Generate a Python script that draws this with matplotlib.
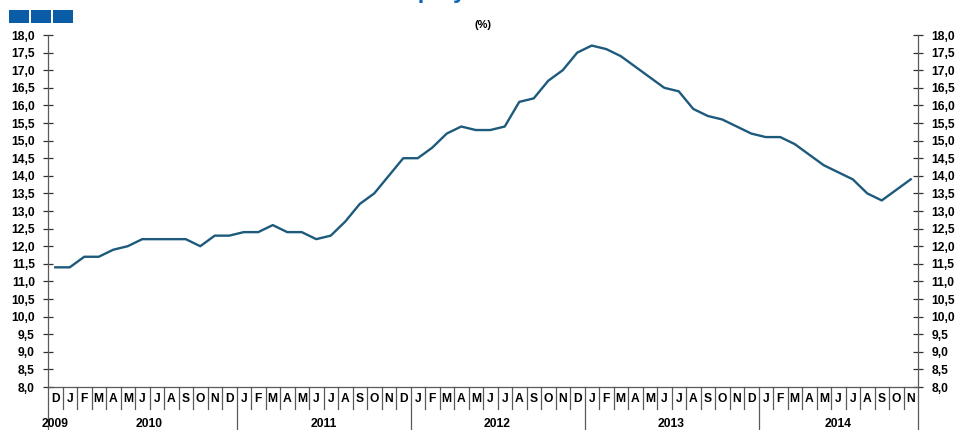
import numpy as np
import matplotlib.pyplot as plt
from matplotlib.patches import Rectangle
from matplotlib.transforms import blended_transform_factory

plt.rcParams['font.family'] = ['Liberation Sans', 'DejaVu Sans']

# dados mensais, Dez 2009 - Nov 2014 (%)
months = ['D'] + ['J', 'F', 'M', 'A', 'M', 'J', 'J', 'A', 'S', 'O', 'N', 'D'] * 4 + \
         ['J', 'F', 'M', 'A', 'M', 'J', 'J', 'A', 'S', 'O', 'N']
years = ['2009', '2010', '2011', '2012', '2013', '2014']
rate = [11.4, 11.4, 11.7, 11.7, 11.9, 12.0, 12.2, 12.2, 12.2, 12.2, 12.0, 12.3,
        12.3, 12.4, 12.4, 12.6, 12.4, 12.4, 12.2, 12.3, 12.7, 13.2, 13.5, 14.0,
        14.5, 14.5, 14.8, 15.2, 15.4, 15.3, 15.3, 15.4, 16.1, 16.2, 16.7, 17.0,
        17.5, 17.7, 17.6, 17.4, 17.1, 16.8, 16.5, 16.4, 15.9, 15.7, 15.6, 15.4,
        15.2, 15.1, 15.1, 14.9, 14.6, 14.3, 14.1, 13.9, 13.5, 13.3, 13.6, 13.9]

x = np.arange(len(rate))
grey = '#5a5a5a'

fig = plt.figure(figsize=(9.6, 4.3), dpi=100)
ax = fig.add_axes([48 / 960, 43 / 430, 870 / 960, 352 / 430])

ax.plot(x, rate, color='#1d5a7b', lw=1.7, solid_joinstyle='round')
ax.set_xlim(-0.5, len(rate) - 0.5)
ax.set_ylim(8, 18)

# eixos
ax.spines['top'].set_visible(False)
for s in ['left', 'right', 'bottom']:
    ax.spines[s].set_color(grey)
    ax.spines[s].set_linewidth(0.9)

yt = np.arange(8, 18.01, 0.5)
ax.set_yticks(yt)
ax.set_yticklabels([f'{v:.1f}'.replace('.', ',') for v in yt], fontweight='bold', fontsize=8.7)
ax.tick_params(axis='y', which='both', direction='inout', length=7, width=0.9,
               color='#333333', left=True, right=True, labelleft=True, labelright=True, pad=6)
ax.set_xticks([])

# meses e anos por baixo do eixo
tr = blended_transform_factory(ax.transData, ax.transAxes)
for i, m in enumerate(months):
    ax.text(i, -0.034, m, transform=tr, ha='center', va='center', fontsize=8.7, fontweight='bold')
for i in range(len(months) - 1):
    b = i + 0.5
    long_line = months[i] == 'D' and i > 0
    ax.plot([b, b], [0, -0.122 if long_line else -0.062], transform=tr, color=grey,
            lw=0.9, clip_on=False)
for xe in [-0.5, len(rate) - 0.5]:
    ax.plot([xe, xe], [0, -0.125], transform=tr, color=grey, lw=0.9, clip_on=False)

# posicao dos anos: centro dos meses de cada ano
starts = [0] + [1 + 12 * k for k in range(5)]
ends = [0] + [min(12 + 12 * k, len(rate) - 1) for k in range(5)]
for yname, a, b in zip(years, starts, ends):
    ax.text((a + b) / 2, -0.105, yname, transform=tr, ha='center', va='center',
            fontsize=8.7, fontweight='bold')

# cabecalho
fig.text(483 / 960, 1 - 25 / 430, '(%)', ha='center', va='center', fontsize=8, fontweight='bold')
fig.text(352 / 960, 1 + 2 / 430, 'Unemployment rate', ha='left', va='baseline',
         fontsize=17, fontweight='bold', color='#1166bb')
for k in range(3):
    fig.patches.append(Rectangle(((9 + 22 * k) / 960, 1 - 23 / 430), 20 / 960, 13 / 430,
                                 transform=fig.transFigure, facecolor='#0b5ca6', lw=0))

fig.savefig('out.png', dpi=100)
